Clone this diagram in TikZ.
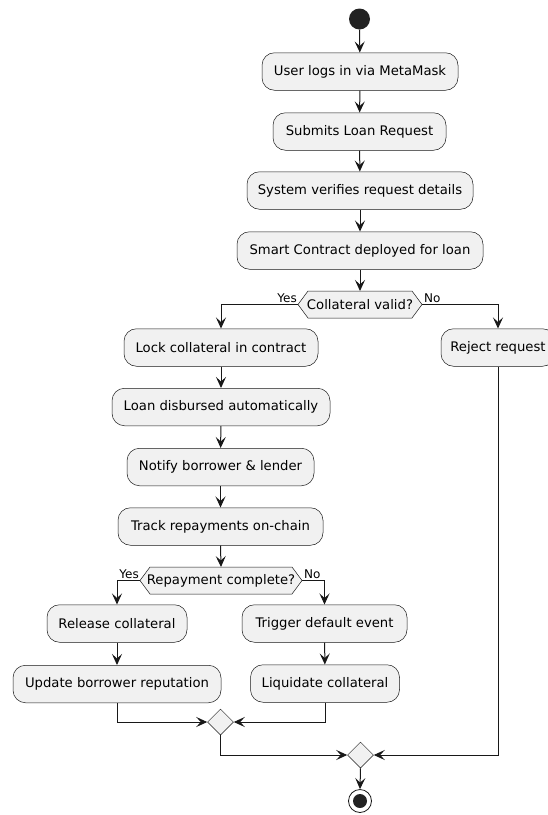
\documentclass[tikz,border=0pt]{standalone}
\usepackage{fontspec}
\setmainfont{DejaVu Sans}
\usetikzlibrary{arrows.meta,calc,shapes.geometric}
\definecolor{lineC}{HTML}{181818}
\definecolor{boxF}{HTML}{F1F1F1}
\definecolor{dotC}{HTML}{222222}
\tikzset{
  act/.style={draw=lineC, line width=0.5pt, fill=boxF, rounded corners=12.5pt,
    minimum height=37.5pt, inner xsep=6pt, font=\fontsize{13.2}{15}\selectfont, text=black},
  hexfill/.style={draw=lineC, line width=0.5pt, fill=boxF},
  hextext/.style={inner sep=0pt, font=\fontsize{13.2}{15}\selectfont},
  lbl/.style={inner sep=0pt, font=\fontsize{12}{14}\selectfont},
  flow/.style={draw=lineC, line width=1pt, -{Stealth[length=11pt,width=10pt,inset=4.5pt]}},
  merge/.style={draw=lineC, line width=0.5pt, fill=boxF, shape=diamond, minimum size=26pt, inner sep=0pt},
}
\begin{document}
\begin{tikzpicture}[x=1pt,y=1pt]
\useasboundingbox (0,0) rectangle (548,-815);
% start
\node[circle, fill=dotC, minimum size=21pt, inner sep=0pt] (start) at (359.5,-19) {};
% boxes
\node[act, minimum width=196pt] (b1) at (360,-71.5) {User logs in via MetaMask};
\node[act, minimum width=173pt] (b2) at (359.5,-131.5) {Submits Loan Request};
\node[act, minimum width=226pt] (b3) at (360,-190.5) {System verifies request details};
\node[act, minimum width=246pt] (b4) at (360,-250.5) {Smart Contract deployed for loan};
% hexagon 1
\coordinate (h1) at (360,-304.5);
\coordinate (h1l) at (298,-304.5);
\coordinate (h1r) at (422,-304.5);
\draw[hexfill] (h1l) -- ++(10,13.5) -- (412,-291) -- (h1r) -- (412,-318) -- (308,-318) -- cycle;
\node[hextext] (d1) at (h1) {Collateral valid?};
\node[lbl, anchor=base east] (y1) at (297,-302) {Yes};
\node[lbl, anchor=base west] (n1) at (424,-302) {No};
% left branch
\node[act, minimum width=194pt] (lock) at (221,-347.5) {Lock collateral in contract};
\node[act, minimum width=218pt] (disb) at (221,-407) {Loan disbursed automatically};
\node[act, minimum width=187pt] (noti) at (220.5,-467) {Notify borrower \& lender};
\node[act, minimum width=205pt] (track) at (220.5,-526.5) {Track repayments on-chain};
% hexagon 2
\coordinate (h2) at (221,-580.5);
\coordinate (h2l) at (140,-580.5);
\coordinate (h2r) at (302,-580.5);
\draw[hexfill] (h2l) -- ++(10,13.5) -- (292,-567) -- (h2r) -- (292,-594) -- (150,-594) -- cycle;
\node[hextext] (d2) at (h2) {Repayment complete?};
\node[lbl, anchor=base east] (y2) at (139,-578) {Yes};
\node[lbl, anchor=base west] (n2) at (304,-578) {No};
\node[act, minimum width=140pt] (rel) at (117,-623.5) {Release collateral};
\node[act, minimum width=208pt] (upd) at (117,-684) {Update borrower reputation};
\node[act, minimum width=165pt] (trig) at (324.5,-623.5) {Trigger default event};
\node[act, minimum width=149pt] (liq) at (325,-683.5) {Liquidate collateral};
% right branch
\node[act, minimum width=114pt] (rej) at (498,-347.5) {Reject request};
% merges
\node[merge] (m1) at (220.5,-722) {};
\node[merge] (m2) at (360.5,-755) {};
% end
\node[circle, draw=lineC, line width=0.8pt, fill=white, minimum size=23pt, inner sep=0pt] (end) at (360,-801) {};
\node[circle, fill=dotC, minimum size=14pt, inner sep=0pt] (endin) at (end.center) {};
% connectors
\draw[flow] (start) -- (b1);
\draw[flow] (b1) -- (b2);
\draw[flow] (b2) -- (b3);
\draw[flow] (b3) -- (b4);
\draw[flow] (b4.south) -- (360,-291);
\draw[flow] (h1l) -| (lock.north);
\draw[flow] (h1r) -| (rej.north);
\draw[flow] (lock) -- (disb);
\draw[flow] (disb) -- (noti);
\draw[flow] (noti) -- (track);
\draw[flow] (track.south) -- (221,-567);
\draw[flow] (h2l) -| (rel.north);
\draw[flow] (h2r) -| (trig.north);
\draw[flow] (rel) -- (upd);
\draw[flow] (trig) -- (liq);
\draw[flow] (upd.south) |- (m1.west);
\draw[flow] (liq.south) |- (m1.east);
\draw[flow] (m1.south) |- (m2.west);
\draw[flow] (rej.south) |- (m2.east);
\draw[flow] (m2.south) -- (end.north);
\end{tikzpicture}
\end{document}
